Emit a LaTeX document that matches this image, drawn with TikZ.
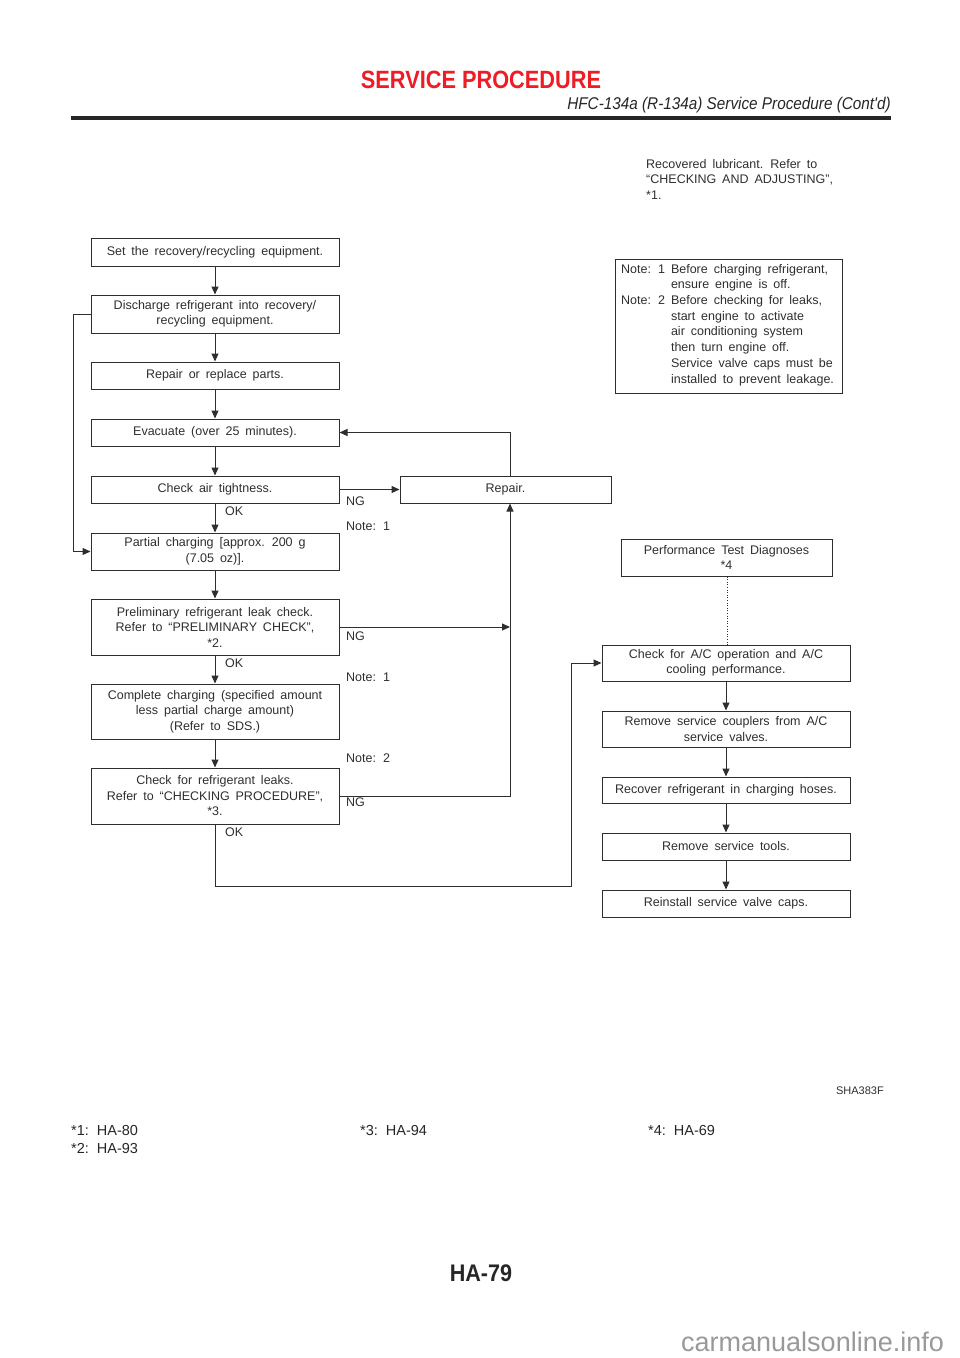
\documentclass[tikz,border=0pt]{standalone}
\usepackage{fontspec}
\setmainfont{Liberation Sans}[WordSpace=1.7]
\newfontfamily\plainsans{Liberation Sans}
\usetikzlibrary{arrows.meta}
\definecolor{ink}{HTML}{2E2E2E}
\definecolor{titlered}{HTML}{EE1C25}
\begin{document}
\begin{tikzpicture}[x=1pt,y=-1pt,
  box/.style={draw=ink, line width=1pt, inner sep=0pt, align=center,
    font=\fontsize{12.5}{15.5}\selectfont, text=ink},
  lbl/.style={anchor=west, inner sep=0pt, font=\fontsize{12.5}{14}\selectfont, text=ink},
  conn/.style={draw=ink, line width=1pt},
  arr/.style={conn, -{Triangle[length=8pt,width=7pt]}},
  footer/.style={anchor=west, inner sep=0pt, font=\plainsans\fontsize{14.5}{16}\selectfont, text=black!85}
]
\useasboundingbox (0,0) rectangle (960,1358);

% header
\node[inner sep=0pt, text=titlered, font=\plainsans\bfseries\fontsize{25}{28}\selectfont] (title) at (481,80) {\scalebox{0.87}[1]{SERVICE PROCEDURE}};
\node[anchor=east, inner sep=0pt, text=black!85, font=\plainsans\itshape\fontsize{17}{20}\selectfont] (subtitle) at (891,105) {\scalebox{0.9}[1]{HFC-134a (R-134a) Service Procedure (Cont'd)}};
\coordinate (ruleL) at (71,118);
\coordinate (ruleR) at (891,118);
\draw[line width=3.5pt, black!85] (ruleL) -- (ruleR);

% top right text
\node[anchor=north west, inner sep=0pt, align=left, text=ink, font=\fontsize{12.5}{15.5}\selectfont] (lubr) at (646,159) {Recovered lubricant. Refer to\\``CHECKING AND ADJUSTING'',\\*1.};

% notes
\node[draw=ink, line width=1pt, minimum width=227pt, minimum height=134pt, anchor=north west, inner sep=0pt] (notes) at (615,259) {};
\node[anchor=north west, inner sep=0pt, text=ink, font=\fontsize{12.5}{15.7}\selectfont] (notestext) at (621,262)
{\renewcommand{\arraystretch}{1}\begin{tabular}{@{}l@{\hspace{6pt}}l@{}}
Note:\hspace{7pt}1 & Before charging refrigerant,\\
 & ensure engine is off.\\
Note:\hspace{7pt}2 & Before checking for leaks,\\
 & start engine to activate\\
 & air conditioning system\\
 & then turn engine off.\\
 & Service valve caps must be\\
 & installed to prevent leakage.
\end{tabular}};

% left column
\node[box, minimum width=248pt, minimum height=28pt] (n1) at (215,252) {Set the recovery/recycling equipment.};
\node[box, minimum width=248pt, minimum height=38pt] (n2) at (215,314) {Discharge refrigerant into recovery/\\recycling equipment.};
\node[box, minimum width=248pt, minimum height=27pt] (n3) at (215,375.5) {Repair or replace parts.};
\node[box, minimum width=248pt, minimum height=27pt] (n4) at (215,432.5) {Evacuate (over 25 minutes).};
\node[box, minimum width=248pt, minimum height=27pt] (n5) at (215,489.5) {Check air tightness.};
\node[box, minimum width=248pt, minimum height=37pt] (n6) at (215,551.5) {Partial charging [approx. 200 g\\(7.05 oz)].};
\node[box, minimum width=248pt, minimum height=56pt] (n7) at (215,627) {Preliminary refrigerant leak check.\\Refer to ``PRELIMINARY CHECK'',\\*2.};
\node[box, minimum width=248pt, minimum height=55pt] (n8) at (215,711.5) {Complete charging (specified amount\\less partial charge amount)\\(Refer to SDS.)};
\node[box, minimum width=248pt, minimum height=56pt] (n9) at (215,796) {Check for refrigerant leaks.\\Refer to ``CHECKING PROCEDURE'',\\*3.};

\node[box, minimum width=211pt, minimum height=27pt] (repair) at (505.5,489.5) {Repair.};

% right column
\node[box, minimum width=211pt, minimum height=37pt] (perf) at (726.5,557.5) {Performance Test Diagnoses\\*4};
\node[box, minimum width=248pt, minimum height=36pt] (r1) at (726,663) {Check for A/C operation and A/C\\cooling performance.};
\node[box, minimum width=248pt, minimum height=36pt] (r2) at (726,729) {Remove service couplers from A/C\\service valves.};
\node[box, minimum width=248pt, minimum height=26pt] (r3) at (726,790) {Recover refrigerant in charging hoses.};
\node[box, minimum width=248pt, minimum height=27pt] (r4) at (726,846.5) {Remove service tools.};
\node[box, minimum width=248pt, minimum height=27pt] (r5) at (726,903.5) {Reinstall service valve caps.};

% labels
\node[lbl] (ok1) at (225,511) {OK};
\node[lbl] (ng1) at (346,501) {NG};
\node[lbl] (note1a) at (346,526) {Note: 1};
\node[lbl] (ng2) at (346,636) {NG};
\node[lbl] (ok2) at (225,663) {OK};
\node[lbl] (note1b) at (346,677) {Note: 1};
\node[lbl] (note2) at (346,758) {Note: 2};
\node[lbl] (ng3) at (346,802) {NG};
\node[lbl] (ok3) at (225,832) {OK};

% coordinates for routing
\coordinate (rx) at (510,0);
\coordinate (lx) at (73,0);
\coordinate (bottomy) at (0,886);
\coordinate (ux) at (571,0);
\coordinate (dotx) at (727,0);

% connectors left column
\draw[arr] (n1) -- (n2);
\draw[arr] (n2) -- (n3);
\draw[arr] (n3) -- (n4);
\draw[arr] (n4) -- (n5);
\draw[arr] (n5) -- (n6);
\draw[arr] (n6) -- (n7);
\draw[arr] (n7) -- (n8);
\draw[arr] (n8) -- (n9);

% loops
\draw[arr] (n2.west) -- (lx |- n2.west) -- (lx |- n6.west) -- (n6.west);
\draw[arr] (n5.east) -- (repair.west);
\draw[arr] (repair.north -| rx) -- (rx |- n4.east) -- (n4.east);
\draw[arr] (n7.east) -- (rx |- n7.east);
\draw[arr] (n9.east) -- (rx |- n9.east) -- (repair.south -| rx);
\draw[arr] (n9.south) -- (n9.south |- bottomy) -- (ux |- bottomy) -- (ux |- r1.west) -- (r1.west);

% right column
\draw[conn, line width=0.6pt, dotted] (perf.south -| dotx) -- (r1.north -| dotx);
\draw[arr] (r1) -- (r2);
\draw[arr] (r2) -- (r3);
\draw[arr] (r3) -- (r4);
\draw[arr] (r4) -- (r5);

% footer
\node[anchor=east, inner sep=0pt, text=ink, font=\plainsans\fontsize{11}{13}\selectfont] (fig) at (884,1091) {SHA383F};
\node[footer] (f1) at (71,1130) {*1:\hspace{8pt}HA-80};
\node[footer] (f2) at (71,1148) {*2:\hspace{8pt}HA-93};
\node[footer] (f3) at (360,1130) {*3:\hspace{8pt}HA-94};
\node[footer] (f4) at (648,1130) {*4:\hspace{8pt}HA-69};
\node[inner sep=0pt, text=black!85, font=\plainsans\bfseries\fontsize{24}{28}\selectfont] (page) at (481,1273) {\scalebox{0.9}[1]{HA-79}};
\node[anchor=west, inner sep=0pt, text=black!40, font=\plainsans\fontsize{27}{30}\selectfont] (wm) at (681,1342) {carmanualsonline.info};
\end{tikzpicture}
\end{document}
